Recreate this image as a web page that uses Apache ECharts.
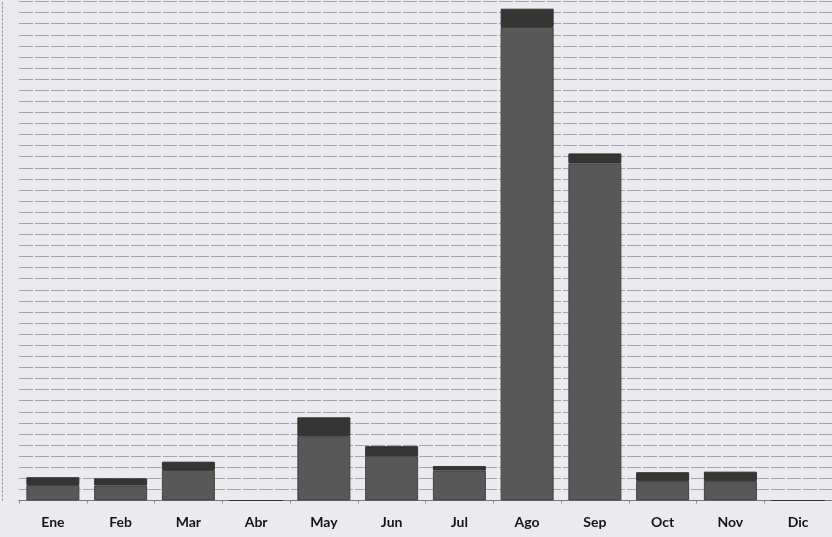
<!DOCTYPE html>
<html>
<head>
<meta charset="utf-8">
<script src="https://cdn.jsdelivr.net/npm/echarts@6/dist/echarts.min.js"></script>
<style>
html,body{margin:0;padding:0;background:#ebebef;}
#chart{width:832px;height:537px;}
</style>
</head>
<body>
<div id="chart"></div>
<script>
const months = ['Ene','Feb','Mar','Abr','May','Jun','Jul','Ago','Sep','Oct','Nov','Dic'];
const baseValues = [1.4, 1.35, 2.75, 0, 5.8, 4.0, 2.7, 42.7, 30.4, 1.75, 1.75, 0];
const topValues  = [0.7, 0.65, 0.75, 0, 1.7, 0.9, 0.4, 1.65, 0.9, 0.8, 0.85, 0];
const yMax = 45;
const yInterval = 1;

const chart = echarts.init(document.getElementById('chart'), null, {renderer:'canvas'});
chart.setOption({
  backgroundColor: '#ebebef',
  animation: false,
  grid: {left: 19, right: 0, top: 1.5, bottom: 36.5},
  xAxis: {
    type: 'category',
    data: months,
    axisLine: {show: true, lineStyle: {color: '#7a7a7a', width: 1}},
    axisTick: {show: true, length: 3, lineStyle: {color: '#8a8a8a'}},
    axisLabel: {color: '#151515', fontFamily: 'Lato', fontWeight: 'bold', fontSize: 14, margin: 15}
  },
  yAxis: {
    type: 'value',
    min: 0, max: yMax, interval: yInterval,
    offset: 17,
    axisLine: {show: true, lineStyle: {color: '#9a9a9a', type: [2,2], width: 1}},
    axisTick: {show: false},
    axisLabel: {show: false},
    splitLine: {show: true, lineStyle: {color: '#a6a6a8', type: [14,2], width: 1}}
  },
  series: [
    {
      type: 'bar', stack: 'm', data: baseValues, barWidth: 53,
      itemStyle: {color: '#575857', borderColor: '#404240', borderWidth: 1}
    },
    {
      type: 'bar', stack: 'm', data: topValues, barWidth: 53,
      itemStyle: {color: '#343634', borderColor: '#2e302e', borderWidth: 1}
    }
  ]
});
</script>
</body>
</html>
